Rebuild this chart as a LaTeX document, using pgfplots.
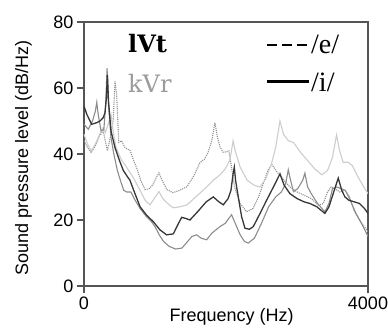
\documentclass[border=0pt]{standalone}
\usepackage{pgfplots}
\pgfplotsset{compat=1.18}
\usepackage{fontspec}
\setmainfont{Liberation Serif}
\newfontfamily\dvs{DejaVu Serif}
\newfontfamily\sans{Liberation Sans}
\definecolor{axisgray}{RGB}{85,85,85}
\definecolor{darkc}{RGB}{55,55,55}
\definecolor{midc}{RGB}{140,140,140}
\definecolor{dotc}{RGB}{145,145,145}
\definecolor{lightc}{RGB}{205,205,205}
\definecolor{kvrc}{RGB}{155,155,155}
\begin{document}
\begin{tikzpicture}
\begin{axis}[
  at={(0,0)}, anchor=south west,
  scale only axis, width=284pt, height=264pt,
  xmin=0, xmax=4000, ymin=0, ymax=80,
  xtick={0,4000}, xticklabels={0,4000},
  ytick={0,20,40,60,80},
  xtick pos=bottom, ytick pos=left,
  tick align=outside, major tick length=7pt,
  every tick/.style={axisgray, line width=1.2pt},
  axis line style={axisgray, line width=1.6pt},
  ticklabel style={font=\sans\fontsize{18}{20}\selectfont},
  /pgf/number format/assume math mode=true,
  xlabel={Frequency (Hz)},
  ylabel={Sound pressure level (dB/Hz)},
  every axis x label/.style={at={(axis description cs:0.52,-0.136)}, anchor=base, font=\sans\fontsize{18}{20}\selectfont},
  every axis y label/.style={at={(axis description cs:-0.197,0.485)}, anchor=base, rotate=90, font=\sans\fontsize{18}{20}\selectfont},
]
% lVt /e/  (dotted, medium)
\addplot[dotc, densely dotted, line width=1.1pt] coordinates {
(0,44) (50,42) (100,40.5) (160,42.5) (220,45.5) (270,47) (300,44) (330,41) (370,45) (410,50) (437,62) (460,58) (490,43.5) (530,44) (577,42) (650,41) (700,38) (750,35.3) (800,32) (859,29.2) (920,29.5) (971,30.7) (1020,33) (1056,34.3) (1100,32) (1168,29.2) (1253,28.3) (1350,29) (1450,30.1) (1550,33.5) (1633,37.4) (1700,38.5) (1746,40.4) (1800,44) (1844,49.5) (1880,45) (1915,42.2) (1960,40.5) (2013,40.7) (2040,41) (2070,37) (2120,30) (2200,25) (2290,22.5) (2380,23.5) (2460,27) (2540,32) (2600,35.5) (2647,36.8) (2720,34.5) (2800,32.5) (2900,30) (3000,28.5) (3100,27.5) (3200,26.5) (3300,24.5) (3370,25) (3430,28.5) (3480,30) (3530,29.5) (3600,28.5) (3680,29) (3740,27) (3800,23) (3880,20) (4000,16.5)
};
% kVr /e/ (lightest)
\addplot[lightc, line width=1.1pt] coordinates {
(0,46) (50,43) (100,41) (160,43) (220,46) (270,48) (300,46.5) (340,49) (380,52) (410,47) (450,42) (520,38.5) (600,36) (690,33) (740,31) (790,29) (860,26) (929,24.6) (990,26.5) (1056,28.6) (1110,26.5) (1168,25.2) (1253,23.7) (1350,24) (1450,24.6) (1600,27.5) (1732,30.1) (1820,32) (1915,33.7) (1990,35.5) (2056,38.3) (2100,44) (2130,41) (2200,36) (2300,32) (2400,30.5) (2478,30) (2560,32.5) (2640,37) (2700,42) (2760,50) (2810,46) (2880,44) (2950,43.5) (3050,40.5) (3150,38) (3250,35.5) (3350,33.7) (3430,35) (3500,39) (3557,45.8) (3600,41) (3650,37.5) (3720,37.5) (3780,36.5) (3860,33) (3940,30) (4000,28)
};
% kVr /i/ (gray solid)
\addplot[midc, line width=1.1pt] coordinates {
(0,49) (60,47.5) (120,50) (160,53) (180,55.7) (200,52) (240,47) (280,47.5) (305,55) (325,66) (345,55) (380,45) (420,40) (470,35) (520,31.5) (560,29) (600,28.5) (660,28.5) (720,26) (790,23.5) (880,21) (950,19.5) (1000,18) (1060,15.5) (1120,13.5) (1200,12) (1290,11.2) (1380,11.5) (1460,13.5) (1520,15) (1586,15.5) (1650,14.5) (1727,14) (1800,16) (1915,18) (1990,19) (2040,20.5) (2079,21.6) (2130,19) (2200,15.5) (2260,13.5) (2314,13) (2400,14.5) (2500,19) (2600,24) (2700,27) (2780,28.5) (2840,31) (2877,35.2) (2910,32) (2950,28.6) (3010,29.5) (3080,32) (3111,34.2) (3150,30) (3200,28) (3290,25) (3393,22.5) (3450,25) (3500,29.5) (3560,30) (3620,29.5) (3680,29) (3750,26) (3830,22) (3920,18.5) (4000,15)
};
% lVt /i/ (dark solid)
\addplot[darkc, line width=1.3pt] coordinates {
(0,54.5) (40,52) (108,49) (180,49.5) (225,50) (270,51) (296,52.5) (315,57) (330,64) (345,56) (380,47) (436,42) (500,38) (554,35) (600,33.5) (648,32) (700,29) (790,24) (880,21.5) (976,19.5) (1070,17) (1164,15.5) (1258,15.8) (1320,18.5) (1375,20.8) (1430,20.5) (1492,20) (1600,22.5) (1721,25.5) (1821,27) (1900,25.5) (1962,24.6) (2030,26.5) (2070,29) (2100,34) (2117,36) (2135,32) (2173,27) (2220,21) (2267,17.5) (2330,17.2) (2384,18) (2480,22) (2572,26) (2680,30.5) (2760,34) (2820,30.5) (2900,28) (3000,26.5) (3100,25.5) (3182,25) (3280,24) (3393,22) (3450,24) (3510,28) (3581,32.7) (3630,29) (3675,27) (3730,26) (3792,25.6) (3880,25) (3950,23.5) (4000,22)
};
\end{axis}
% legend-like annotations
\node[anchor=base west, inner sep=0pt, font=\dvs\bfseries\fontsize{24}{26}\selectfont] at (44pt,233pt) {lVt};
\node[anchor=base west, inner sep=0pt, text=kvrc, font=\dvs\fontsize{24}{26}\selectfont] at (44pt,193.3pt) {kVr};
\draw[black, line width=2.6pt, dash pattern=on 10pt off 5pt] (183pt,241pt) -- (225pt,241pt);
\node[anchor=base west, inner sep=0pt, font=\fontsize{28}{30}\selectfont] at (227pt,232.7pt) {/e/};
\draw[black, line width=2.8pt] (183pt,204.3pt) -- (225pt,204.3pt);
\node[anchor=base west, inner sep=0pt, font=\fontsize{28}{30}\selectfont] at (227pt,194.3pt) {/i/};
\pgfresetboundingbox
\path (-84pt,-46pt) rectangle (304pt,286pt);
\end{tikzpicture}
\end{document}
